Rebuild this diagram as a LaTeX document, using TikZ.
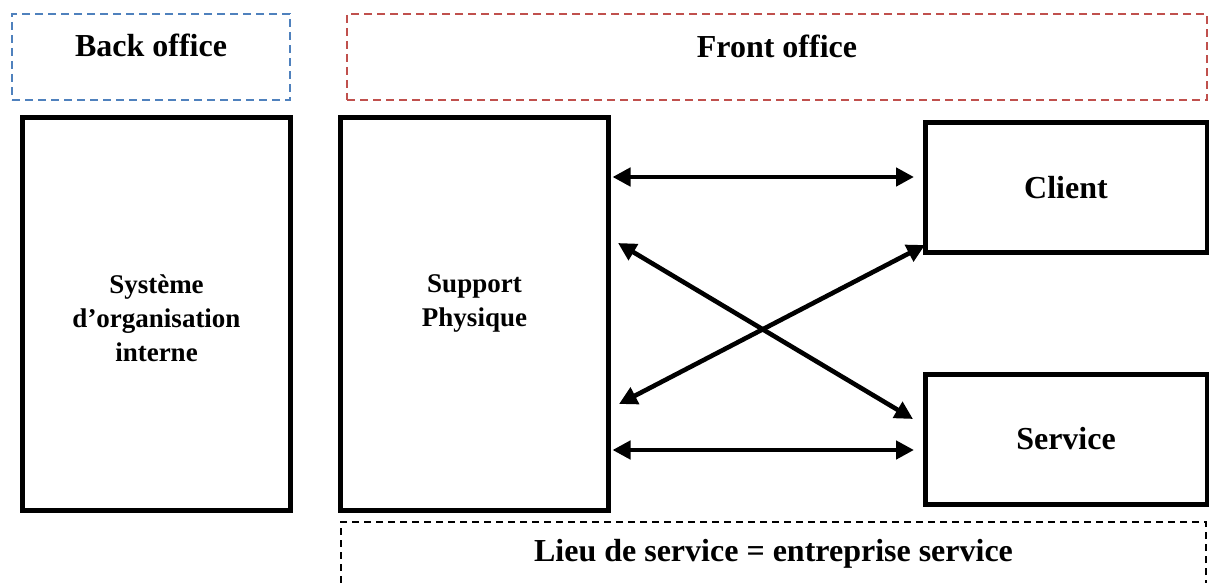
\documentclass[tikz,border=0pt]{standalone}
\usepackage{fontspec}
\setmainfont{Liberation Serif}
\usepackage{xcolor}
\usepackage{tikz}
\usetikzlibrary{arrows.meta, calc}

\definecolor{backblue}{RGB}{79,129,189}
\definecolor{frontred}{RGB}{192,80,77}

\begin{document}
\begin{tikzpicture}[x=0.5pt, y=-0.5pt,
    zone/.style={draw, dashed, line width=1.4pt, dash pattern=on 4pt off 2.5pt, minimum height=43pt},
    title/.style={font=\fontsize{16}{19}\selectfont\bfseries},
    bigbox/.style={draw, line width=2.5pt, minimum width=134pt, minimum height=196.25pt},
    boxtext/.style={align=center, font=\fontsize{13.5}{17}\selectfont\bfseries},
    smallbox/.style={draw, line width=2.5pt, minimum width=141pt, minimum height=65pt, font=\fontsize{16}{19}\selectfont\bfseries},
    link/.style={{Triangle[length=9pt,width=9pt]}-{Triangle[length=9pt,width=9pt]}, line width=2.3pt}]
       \useasboundingbox (0,0) rectangle (1209,583);

       \node[zone, draw=backblue, minimum width=139pt, label={[title, yshift=6pt]center:Back office}] (back) at (151,57) {};
       \node[zone, draw=frontred, minimum width=430pt, label={[title, yshift=5.5pt]center:Front office}] (front) at (777,57) {};

       \node[bigbox] (sys) at (156.5,314) {};
       \node[boxtext] (systxt) at ($(sys.center)+(0,4)$) {Système\\d’organisation\\interne};
       \node[bigbox] (supp) at (474.5,314) {};
       \node[boxtext] (supptxt) at ($(supp.center)+(0,-11)$) {Support\\Physique};

       \node[smallbox] (client) at (1066,187.5) {Client};
       \node[smallbox] (service) at (1066,439) {Service};

       \node[zone, draw=black, dash pattern=on 3.5pt off 2.5pt, minimum width=432.5pt, minimum height=32pt, title] (lieu) at (773.5,554) {Lieu de service = entreprise service};

       \draw[link, shorten <=0.75pt, shorten >=4.25pt] ($(supp.east |- client.west)+(0,-10.5)$) -- ($(client.west)+(0,-10.5)$);
       \draw[link, shorten <=0.75pt, shorten >=4.25pt] ($(supp.east |- service.west)+(0,11)$) -- ($(service.west)+(0,11)$);
       \draw[link] ($(supp.east)+(7,-71)$) -- ($(service.west)+(-9.5,-20)$);
       \draw[link] ($(supp.east)+(8,90)$) -- ($(client.south west)+(2.5,-10)$);
    \end{tikzpicture}
\end{document}
